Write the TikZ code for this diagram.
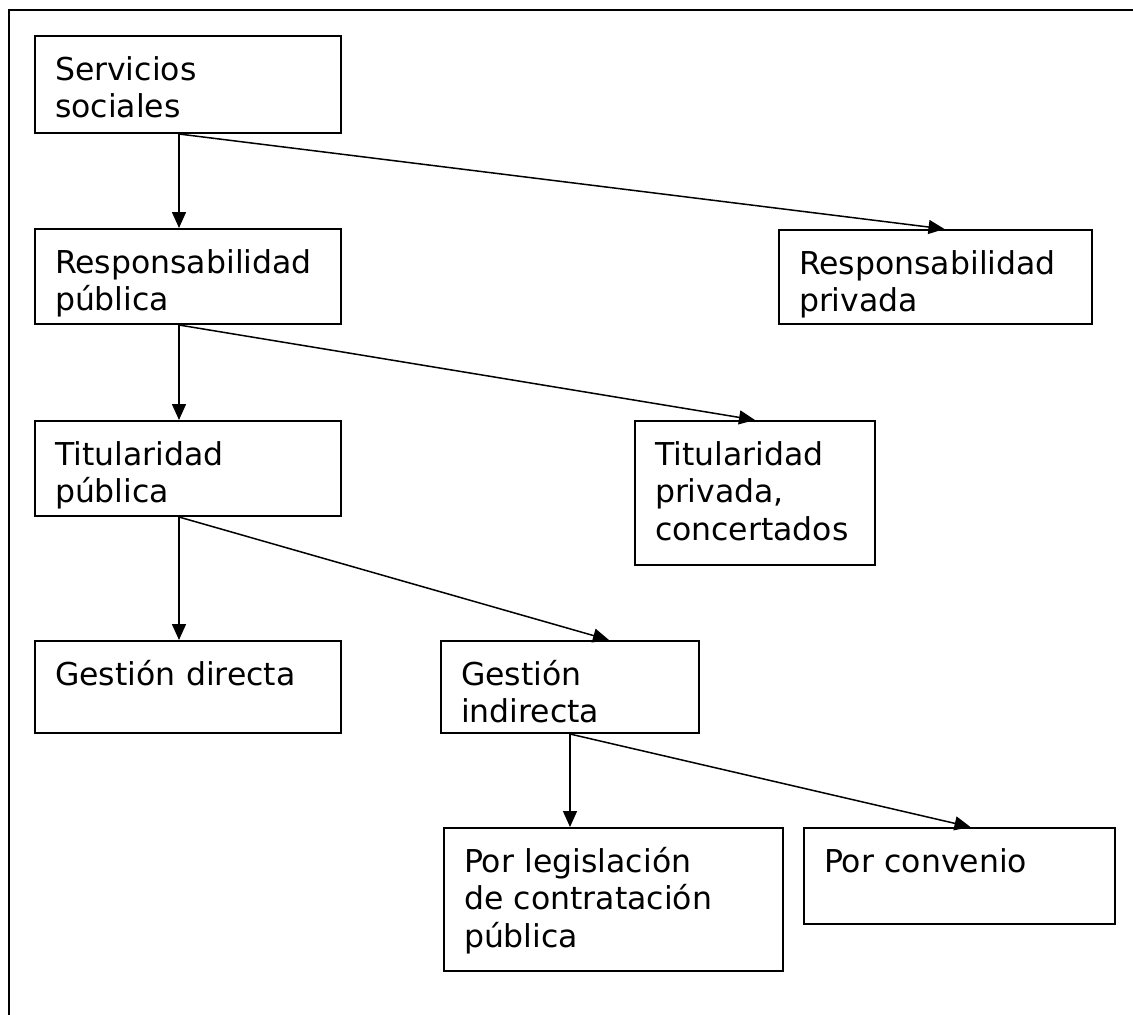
\documentclass[tikz,border=0pt]{standalone}
\usepackage{fontspec}
\setmainfont{DejaVu Sans}
\usepackage{tikz}
\usetikzlibrary{arrows.meta}

\begin{document}
\begin{tikzpicture}[x=1pt, y=-1pt,
	box/.style={draw, line width=2pt, rectangle, anchor=north west, align=left, inner xsep=20pt, inner ysep=0pt, text height=44pt, font=\fontsize{31.5}{37.5}\selectfont},
	arr/.style={line width=1.5pt, -{Triangle[length=16pt, width=14pt]}}]
	\useasboundingbox (0,0) rectangle (1133,1015);
	\draw[line width=2.5pt] (9,10) rectangle (1160,1040);
	\node[box, text width=266pt, text depth=53pt](ss) at (34,35) {Servicios\\sociales};
	\node[box, text width=266pt, text depth=51pt](rpub) at (34,228) {Responsabilidad\\pública};
	\node[box, text width=273pt, text depth=50pt](rpriv) at (778,229) {Responsabilidad\\privada};
	\node[box, text width=266pt, text depth=51pt](tpub) at (34,420) {Titularidad\\pública};
	\node[box, text width=200pt, text depth=100pt](tpriv) at (634,420) {Titularidad\\privada,\\concertados};
	\node[box, text width=266pt, text depth=48pt](gdir) at (34,640) {Gestión directa};
	\node[box, text width=218pt, text depth=48pt](gind) at (440,640) {Gestión\\indirecta};
	\node[box, text width=299pt, text depth=99pt](leg) at (443,827) {Por legislación\\de contratación\\pública};
	\node[box, text width=271pt, text depth=52pt](conv) at (803,827) {Por convenio};
	\draw[arr] ([xshift=-9pt]ss.south) -- ([xshift=-9pt]rpub.north);
	\draw[arr] ([xshift=-9pt]ss.south) -- ([xshift=9pt]rpriv.north);
	\draw[arr] ([xshift=-9pt]rpub.south) -- ([xshift=-9pt]tpub.north);
	\draw[arr] ([xshift=-9pt]rpub.south) -- (tpriv.north);
	\draw[arr] ([xshift=-9pt]tpub.south) -- ([xshift=-9pt]gdir.north);
	\draw[arr] ([xshift=-9pt]tpub.south) -- ([xshift=39pt]gind.north);
	\draw[arr] (gind.south) -- (gind.south |- leg.north);
	\draw[arr] (gind.south) -- ([xshift=11pt]conv.north);
\end{tikzpicture}
\end{document}
